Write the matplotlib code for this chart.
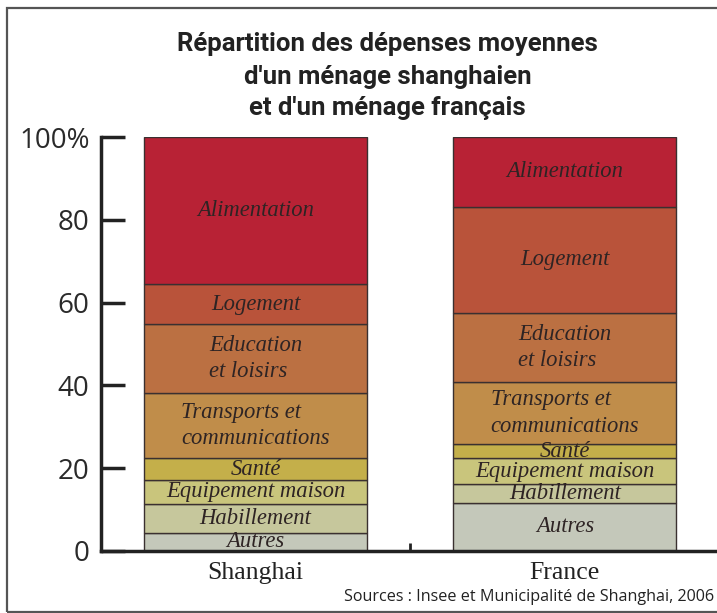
import matplotlib.pyplot as plt
from matplotlib.patches import Rectangle

cities = ['Shanghai', 'France']
postes = ['Autres', 'Habillement', 'Equipement maison', 'Santé',
          'Transports et\ncommunications', 'Education\net loisirs',
          'Logement', 'Alimentation']
shanghai = [4.4, 6.9, 5.9, 5.1, 15.9, 16.6, 9.7, 35.5]
france = [11.5, 4.7, 6.1, 3.5, 14.9, 16.8, 25.7, 16.8]
couleurs = ['#c4c8ba', '#c6c79c', '#c9c57c', '#c4af4a',
            '#c08d4a', '#bb7042', '#b9533a', '#b82235']
yticks = [0, 20, 40, 60, 80, 100]
ylabels = ['0', '20', '40', '60', '80', '100%']
titre = ["Répartition des dépenses moyennes",
         "d'un ménage shanghaien",
         "et d'un ménage français"]

W, H = 717, 613
fig = plt.figure(figsize=(W / 100, H / 100), dpi=100)
ax = fig.add_axes([100.7 / W, 1 - 550.7 / H, (W - 100.7) / W, 413.5 / H])

# cadre gris autour du graphique (ouvert à droite)
fig.patches.append(Rectangle((7 / W, 1 - 611.5 / H), 1.2, (611.5 - 8) / H,
                             transform=fig.transFigure, fill=False,
                             edgecolor='#555555', lw=1.6))

serif = 'Liberation Serif'
largeur = 0.721
for i, vals in enumerate([shanghai, france]):
    bas = 0
    for poste, v, c in zip(postes, vals, couleurs):
        ax.bar(i, v, bottom=bas, width=largeur, color=c,
               edgecolor='#3a3030', linewidth=1.0)
        ax.text(i, bas + v / 2, poste, ha='center', va='center',
                multialignment='left', family=serif, style='italic',
                fontsize=16.3, color='#2e2424', linespacing=1.35)
        bas += v

ax.set_xlim(-0.5005, 1.492)
ax.set_ylim(0, 100)
ax.set_yticks(yticks)
ax.set_yticklabels(ylabels, family='Open Sans', fontsize=20, color='#2a2a2a')
ax.tick_params(axis='y', direction='in', length=17, width=2.5, pad=8,
               color='#222222')
ax.set_xticks([0.5])
ax.set_xticklabels([])
ax.tick_params(axis='x', direction='in', length=6, width=2, color='#222222')
for i, nom in enumerate(cities):
    ax.text(i, -5.3, nom, ha='center', va='center', family=serif,
            fontsize=18.5, color='#222222')

for s in ['top', 'right']:
    ax.spines[s].set_visible(False)
for s in ['left', 'bottom']:
    ax.spines[s].set_linewidth(2.5)
    ax.spines[s].set_color('#222222')
ax.set_facecolor('none')

for ligne, y in zip(titre, [51, 84, 115]):
    fig.text(387.5 / W, 1 - y / H, ligne, ha='center', va='baseline',
             family='Roboto', fontweight='bold', fontsize=18.5,
             color='#222222')

fig.text(714 / W, 1 - 597 / H, 'Sources : Insee et Municipalité de Shanghai, 2006',
         ha='right', va='center', family='Open Sans', fontsize=11.6,
         color='#222222')

fig.savefig('out.png', dpi=100)
